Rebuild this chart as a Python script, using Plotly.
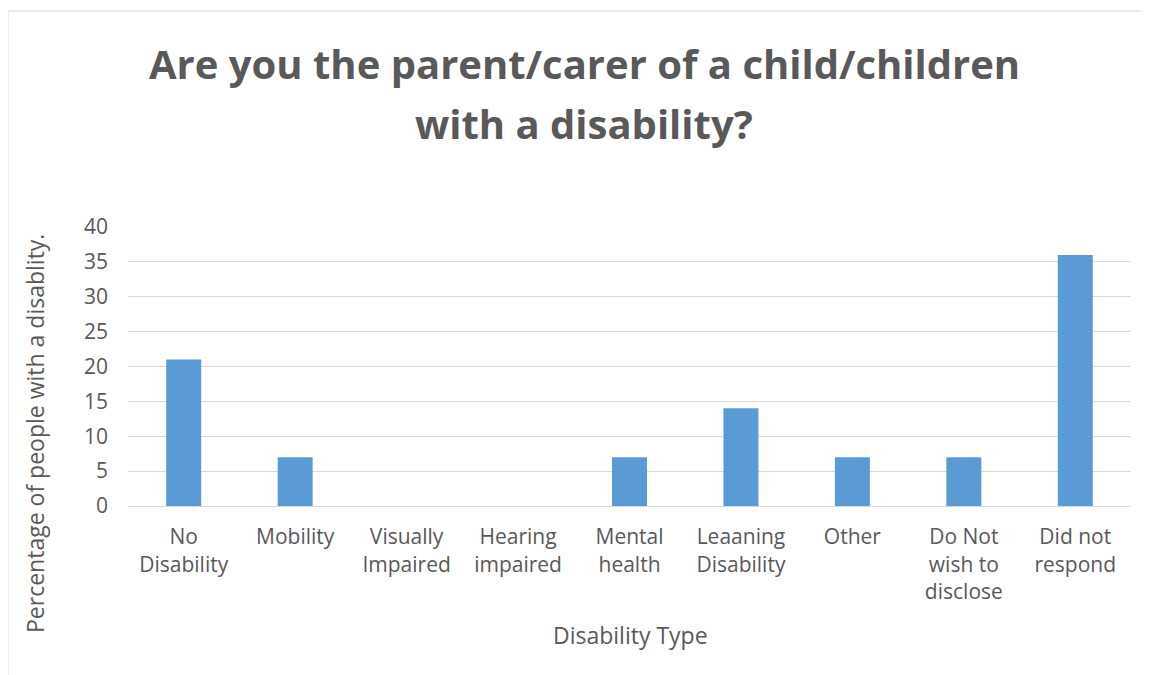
import plotly.graph_objects as go

categories = ["No Disability", "Mobility", "Visually Impaired", "Hearing impaired",
              "Mental health", "Leaaning Disability", "Other",
              "Do Not wish to disclose", "Did not respond"]
tick_labels = ["No<br>Disability", "Mobility", "Visually<br>Impaired", "Hearing<br>impaired",
               "Mental<br>health", "Leaaning<br>Disability", "Other",
               "Do Not<br>wish to<br>disclose", "Did not<br>respond"]
values = [21, 7, 0, 0, 7, 14, 7, 7, 36]
y_ticks = [0, 5, 10, 15, 20, 25, 30, 35, 40]

title_lines = ["Are you the parent/carer of a child/children", "with a disability?"]
x_title = "Disability Type"
y_title = "Percentage of people with a disablity."

TXT = "#595959"
GRID = "#d9d9d9"
FONT = "Open Sans"

OFF = 8  # page body margin
W, H = 1149, 675
L, R, T, B = 128 - OFF, 18 + OFF, 227 - OFF, 169 + OFF
pw = W - L - R
ph = H - T - B

def px_x(p):
    return (p - OFF - L) / pw

def px_y(p):
    return (H - B - (p - OFF)) / ph

fig = go.Figure()
fig.add_trace(go.Bar(x=categories, y=values, marker=dict(color="#5b9bd5", line=dict(width=0)),
                     hoverinfo="x+y"))

fig.update_layout(
    width=W, height=H,
    margin=dict(l=L, r=R, t=T, b=B, autoexpand=False),
    paper_bgcolor="white", plot_bgcolor="white",
    bargap=0.686,
    showlegend=False,
    font=dict(family=FONT, color=TXT, size=21),
    xaxis=dict(
        tickmode="array", tickvals=categories, ticktext=tick_labels,
        showgrid=False, showline=True, linecolor=GRID, linewidth=1,
        ticks="", tickfont=dict(size=21, color=TXT), ticklabelstandoff=12,
    ),
    yaxis=dict(
        range=[0, 40], tickmode="array", tickvals=y_ticks,
        showgrid=True, gridcolor=GRID, gridwidth=1,
        zeroline=False, showline=False, ticks="",
        tickfont=dict(size=21, color=TXT), ticklabelstandoff=19,
    ),
)

# chart title (two lines, Excel-like spacing)
for line, yc in zip(title_lines, [63, 123]):
    fig.add_annotation(
        text=line, xref="paper", yref="paper",
        x=px_x(584), y=px_y(yc), xanchor="center", yanchor="middle",
        showarrow=False, align="center",
        font=dict(family=FONT, size=40, color=TXT, weight="bold"),
    )

# axis titles
fig.add_annotation(
    text=x_title, xref="paper", yref="paper",
    x=px_x(630), y=px_y(635), xanchor="center", yanchor="middle",
    showarrow=False, font=dict(family=FONT, size=23, color=TXT),
)
fig.add_annotation(
    text=y_title, xref="paper", yref="paper", textangle=-90,
    x=px_x(35), y=px_y(434), xanchor="center", yanchor="middle",
    showarrow=False, font=dict(family=FONT, size=23, color=TXT),
)

fig.add_shape(type="rect", xref="paper", yref="paper",
              x0=px_x(8), x1=px_x(1170), y0=px_y(700), y1=px_y(11),
              line=dict(color=GRID, width=1), fillcolor="rgba(0,0,0,0)", layer="below")

fig.write_html("out.html")
